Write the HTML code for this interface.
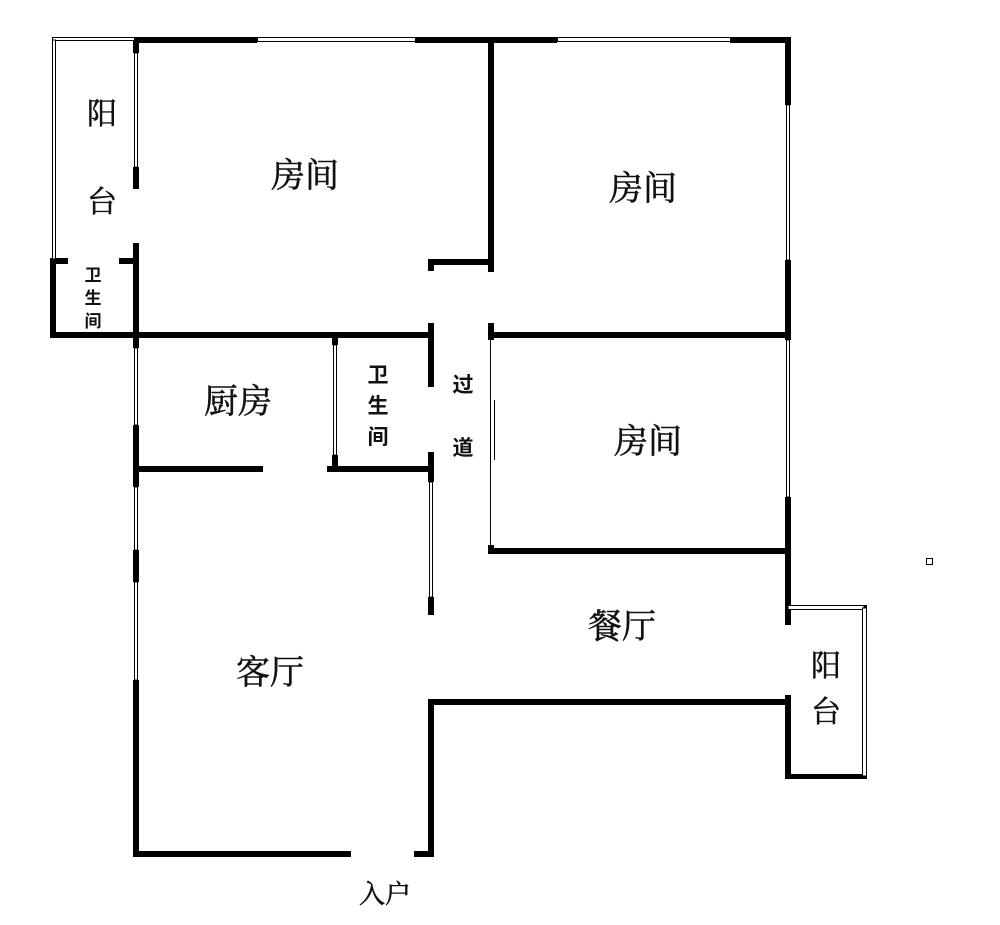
<!DOCTYPE html>
<html><head><meta charset="utf-8"><style>
html,body{margin:0;padding:0;background:#fff;}
svg{display:block}
.s{font-family:"Liberation Serif","Noto Serif CJK SC",serif;fill:#111;stroke:#111;stroke-width:0.5}
.b{font-family:"Liberation Sans","Noto Sans CJK SC",sans-serif;font-weight:bold;fill:#111}
</style></head><body>
<svg width="1000" height="925" viewBox="0 0 1000 925" xmlns="http://www.w3.org/2000/svg">
<g fill="#000">
<rect x="133" y="37" width="124" height="6"/>
<rect x="415" y="37" width="142" height="6"/>
<rect x="730" y="37" width="61" height="6"/>
<rect x="785" y="37" width="6" height="68"/>
<rect x="785" y="260" width="6" height="80"/>
<rect x="785" y="497" width="6" height="128"/>
<rect x="785" y="695" width="6" height="84"/>
<rect x="785" y="774" width="82" height="5"/>
<rect x="862" y="605" width="5" height="5"/>
<rect x="133" y="37" width="6" height="16"/>
<rect x="133" y="167" width="6" height="22"/>
<rect x="133" y="243" width="6" height="105"/>
<rect x="133" y="425" width="6" height="62"/>
<rect x="133" y="550" width="6" height="32"/>
<rect x="133" y="680" width="6" height="177"/>
<rect x="50" y="258" width="18" height="6"/>
<rect x="119" y="258" width="18" height="6"/>
<rect x="50" y="258" width="6" height="80"/>
<rect x="50" y="332" width="383" height="6"/>
<rect x="488" y="37" width="6" height="235"/>
<rect x="428" y="259" width="66" height="6"/>
<rect x="428" y="259" width="6" height="12"/>
<rect x="428" y="323" width="6" height="64"/>
<rect x="428" y="452" width="6" height="30"/>
<rect x="428" y="597" width="6" height="18"/>
<rect x="488" y="323" width="6" height="17"/>
<rect x="488" y="332" width="303" height="6"/>
<rect x="488" y="545" width="6" height="9"/>
<rect x="488" y="548" width="303" height="6"/>
<rect x="332" y="335" width="6" height="10"/>
<rect x="332" y="455" width="6" height="17"/>
<rect x="136" y="466" width="127" height="6"/>
<rect x="327" y="466" width="107" height="6"/>
<rect x="428" y="699" width="363" height="6"/>
<rect x="428" y="699" width="6" height="158"/>
<rect x="133" y="851" width="218" height="6"/>
<rect x="414" y="851" width="20" height="6"/>
</g>
<g fill="#fff" stroke="#000" stroke-width="1">
<rect x="257.5" y="37.5" width="158" height="4"/>
<rect x="557.5" y="37.5" width="173" height="4"/>
<rect x="52.5" y="37.5" width="82" height="3"/>
<rect x="52.5" y="40" width="3" height="219"/>
<rect x="134.5" y="53" width="3" height="114"/>
<rect x="134.5" y="348" width="3" height="77"/>
<rect x="134.5" y="487" width="3" height="63"/>
<rect x="134.5" y="582" width="3" height="98"/>
<rect x="786.5" y="105" width="3" height="155"/>
<rect x="786.5" y="340" width="3" height="157"/>
<rect x="333.5" y="345" width="3" height="110"/>
<rect x="429.5" y="482" width="3" height="115"/>
<rect x="788" y="605.5" width="76" height="4"/>
<rect x="862.5" y="608" width="4" height="168"/>
<rect x="926.5" y="558.5" width="6" height="6"/>
</g>
<line x1="490.5" y1="340" x2="490.5" y2="548" stroke="#000" stroke-width="1"/>
<line x1="494.5" y1="400" x2="494.5" y2="460" stroke="#000" stroke-width="1"/>
<g class="s" font-size="34" text-anchor="middle">
<text x="305" y="187">房间</text>
<text x="643" y="200">房间</text>
<text x="648" y="453">房间</text>
<text x="238" y="413">厨房</text>
<text x="270" y="684">客厅</text>
<text x="622" y="638">餐厅</text>
<text x="102" y="124" font-size="30">阳</text>
<text x="102" y="212" font-size="30">台</text>
<text x="826" y="676" font-size="30">阳</text>
<text x="826" y="722" font-size="30">台</text>
<text x="385" y="903" font-size="26">入户</text>
</g>
<g class="b" text-anchor="middle">
<text x="93" y="281" font-size="17">卫</text>
<text x="93" y="304" font-size="17">生</text>
<text x="93" y="327" font-size="17">间</text>
<text x="378" y="382" font-size="21">卫</text>
<text x="378" y="413" font-size="21">生</text>
<text x="378" y="444" font-size="21">间</text>
<text x="463" y="392" font-size="21">过</text>
<text x="463" y="455" font-size="21">道</text>
</g>
</svg>
</body></html>
